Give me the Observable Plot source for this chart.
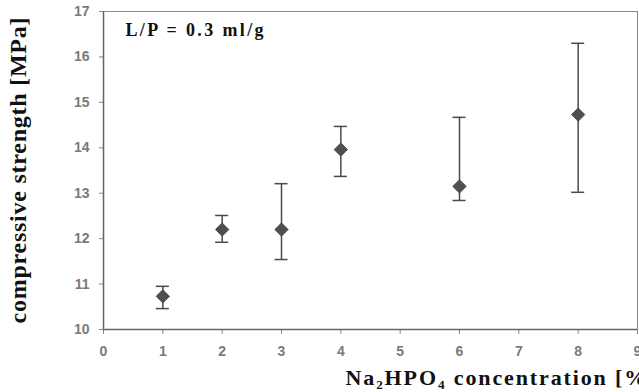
<!DOCTYPE html>
<html>
<head>
<meta charset="utf-8">
<script src="https://cdn.jsdelivr.net/npm/d3@7"></script>
<script src="https://cdn.jsdelivr.net/npm/@observablehq/plot@0.6"></script>
<style>
  html, body { margin: 0; padding: 0; background: #fff; }
  #chart { width: 639px; height: 392px; overflow: hidden; }
</style>
</head>
<body>
<div id="chart"></div>
<script>
// Data
const concentration = [1, 2, 3, 4, 6, 8];
const strength      = [10.73, 12.2, 12.2, 13.96, 13.15, 14.73];
const upper         = [10.95, 12.51, 13.21, 14.47, 14.67, 16.3];
const lower         = [10.46, 11.92, 11.54, 13.37, 12.84, 13.02];
const xTicks = [0, 1, 2, 3, 4, 5, 6, 7, 8, 9];
const yTicks = [10, 11, 12, 13, 14, 15, 16, 17];
const annotation = "L/P = 0.3 ml/g";
const xLabel = "Na\u2082HPO\u2084 concentration [%]";
const yLabel = "compressive strength [MPa]";

const data = concentration.map((c, i) => ({x: c, y: strength[i], hi: upper[i], lo: lower[i]}));
const capHalf = 0.11;
const ink = "#4a4a4a";
const serif = "'Liberation Serif', 'DejaVu Serif', serif";

const chart = Plot.plot({
  width: 639,
  height: 392,
  marginLeft: 103,
  marginRight: 2,
  marginTop: 11,
  marginBottom: 63,
  style: {fontFamily: "'Liberation Sans', Arial, sans-serif", background: "#fff"},
  x: {domain: [0, 9], ticks: xTicks, label: null},
  y: {domain: [10, 17], ticks: yTicks, label: null},
  marks: [
    Plot.frame({stroke: "#8a8a8a", strokeWidth: 1}),
    Plot.axisX({ticks: xTicks, tickSize: 5, tickPadding: 12, fontSize: 14, fontWeight: "bold", fill: "#7a7a7a", stroke: "#888", tickFormat: "d", label: null}),
    Plot.axisY({ticks: yTicks, tickSize: 4, tickPadding: 10, fontSize: 14, fontWeight: "bold", fill: "#7a7a7a", stroke: "#888", tickFormat: "d", label: null}),
    Plot.ruleY([10], {stroke: "#666", strokeWidth: 1.5}),
    Plot.ruleX([0], {stroke: "#666", strokeWidth: 1.5}),
    Plot.ruleX(data, {x: "x", y1: "lo", y2: "hi", stroke: ink, strokeWidth: 1.5}),
    Plot.ruleY(data, {y: "hi", x1: d => d.x - capHalf, x2: d => d.x + capHalf, stroke: ink, strokeWidth: 1.5}),
    Plot.ruleY(data, {y: "lo", x1: d => d.x - capHalf, x2: d => d.x + capHalf, stroke: ink, strokeWidth: 1.5}),
    Plot.dot(data, {x: "x", y: "y", symbol: "diamond2", r: 6, fill: "#4f4f4f", stroke: "#4f4f4f", strokeWidth: 1}),
    Plot.text([annotation], {frameAnchor: "top-left", dx: 22, dy: 19, textAnchor: "start", lineAnchor: "middle",
      fontSize: 18, fontWeight: "bold", fontFamily: serif, fill: "#111"}),
    Plot.text([yLabel], {frameAnchor: "left", dx: -85, rotate: -90, textAnchor: "middle", lineAnchor: "middle",
      fontSize: 24, fontWeight: "bold", fontFamily: serif, fill: "#111"}),
    Plot.text([xLabel], {frameAnchor: "bottom", dx: -25, dy: 48, textAnchor: "start", lineAnchor: "middle",
      fontSize: 22, fontWeight: "bold", fontFamily: serif, fill: "#111"})
  ]
});
document.getElementById("chart").appendChild(chart);

// Stretch label lettering to the widths seen in the scanned reference
const texts = d3.select(chart).selectAll("text");
texts.each(function() {
  const t = this.textContent;
  const sel = d3.select(this);
  if (t === annotation) sel.attr("textLength", 138).attr("lengthAdjust", "spacing");
  if (t === yLabel) sel.attr("textLength", 306).attr("lengthAdjust", "spacing");
  if (t === xLabel) sel.attr("textLength", 310).attr("lengthAdjust", "spacing");
});
</script>
</body>
</html>
